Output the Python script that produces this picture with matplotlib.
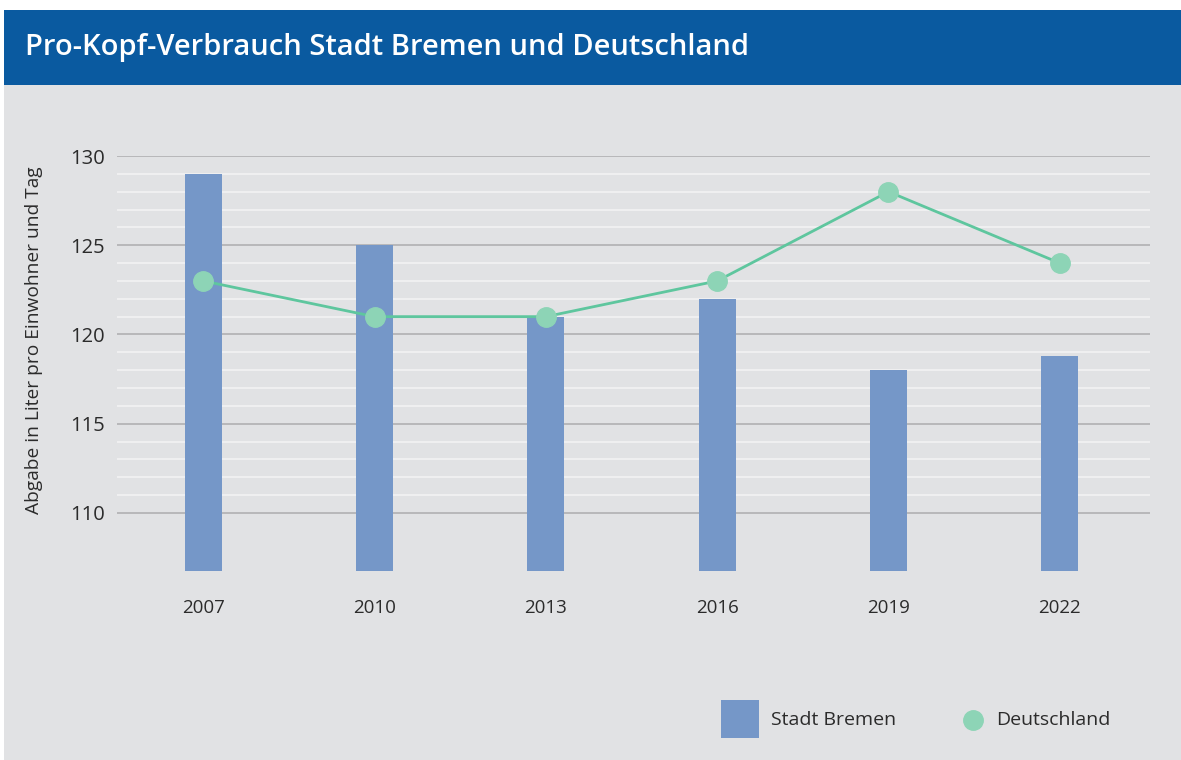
import matplotlib
matplotlib.use("Agg")
import matplotlib.pyplot as plt
from matplotlib.patches import Rectangle
from matplotlib.lines import Line2D

plt.rcParams['font.family'] = ['Open Sans', 'DejaVu Sans']

# Pro-Kopf-Verbrauch in Liter pro Einwohner und Tag
years = [2007, 2010, 2013, 2016, 2019, 2022]
bremen = [129, 125, 121, 122, 118, 118.8]
deutschland = [123, 121, 121, 123, 128, 124]
y_ticks = [110, 115, 120, 125, 130]
legend_labels = ["Stadt Bremen", "Deutschland"]

bar_color = "#7597c8"
line_color = "#5ec69e"
marker_color = "#8dd4b6"
bg_color = "#e1e2e4"
banner_color = "#0a5aa0"
text_color = "#2b2b2b"

W, H = 1181, 760
fig = plt.figure(figsize=(W / 100, H / 100), dpi=100)
fig.patch.set_facecolor("white")


def fx(px):
    return px / W


def fy(py):
    return 1 - py / H


# gray panel and blue title banner
fig.add_artist(Rectangle((fx(4), 0), 1, fy(85), transform=fig.transFigure,
                         facecolor=bg_color, edgecolor="none", zorder=0))
fig.add_artist(Rectangle((fx(4), fy(85)), 1, 75 / H, transform=fig.transFigure,
                         facecolor=banner_color, edgecolor="none", zorder=0))
fig.text(fx(25), fy(47), "Pro-Kopf-Verbrauch Stadt Bremen und Deutschland",
         color="white", fontsize=21, fontweight="semibold", va="center", ha="left")

ax = fig.add_axes([fx(117), fy(571), (1150 - 117) / W, (571 - 156) / H])
ax.set_facecolor("none")
ax.set_xlim(2005.49, 2023.58)
ax.set_ylim(106.75, 130)

# fine white lines every liter, gray lines every five
for v in range(111, 130):
    if v % 5:
        ax.axhline(v, color="#f1f1f2", lw=1.3, zorder=1)
for v in y_ticks:
    ax.axhline(v, color="#b0b0b2", lw=1.2, zorder=1)

ax.bar(years, [b - 106.75 for b in bremen], bottom=106.75, width=0.65,
       color=bar_color, zorder=2)
ax.plot(years, deutschland, color=line_color, lw=2, marker="o", markersize=14,
        markerfacecolor=marker_color, markeredgecolor=marker_color, zorder=3)

ax.set_yticks(y_ticks)
ax.set_xticks(years)
ax.tick_params(length=0, labelcolor=text_color)
ax.tick_params(axis="x", pad=20, labelsize=13.5)
ax.tick_params(axis="y", pad=9, labelsize=14.5)
for s in ax.spines.values():
    s.set_visible(False)
ax.set_ylabel("Abgabe in Liter pro Einwohner und Tag", fontsize=13.8, color=text_color)
ax.yaxis.set_label_coords(-(117 - 34) / (1150 - 117), (571 - 340) / (571 - 156))
ax.yaxis.label.set_va("center")

# legend
fig.add_artist(Rectangle((fx(721), fy(738)), 38 / W, 38 / H, transform=fig.transFigure,
                         facecolor=bar_color, edgecolor="none"))
fig.text(fx(771), fy(720), legend_labels[0], fontsize=14, color=text_color,
         va="center", ha="left")
fig.add_artist(Line2D([fx(973)], [fy(720)], transform=fig.transFigure, ls="none",
                      marker="o", markersize=14, markerfacecolor=marker_color,
                      markeredgecolor=marker_color))
fig.text(fx(996), fy(720), legend_labels[1], fontsize=14, color=text_color,
         va="center", ha="left")

fig.savefig("out.png", dpi=100)
